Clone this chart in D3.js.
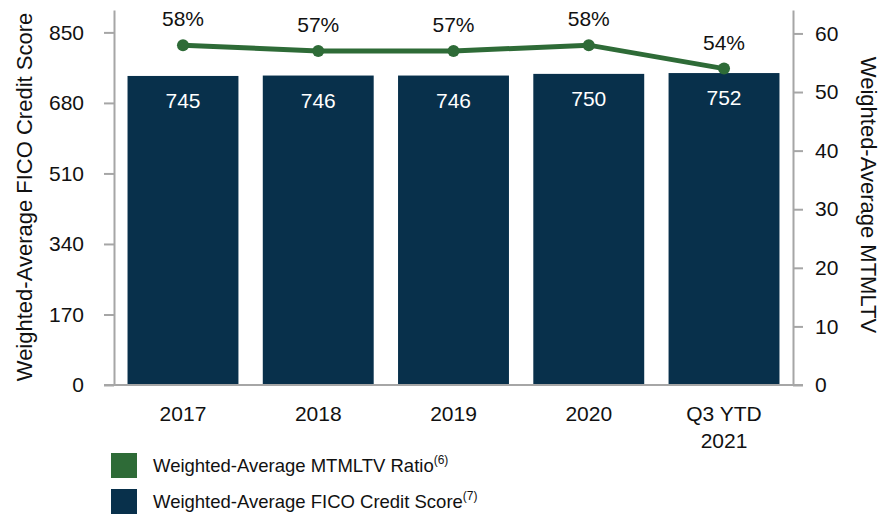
<!DOCTYPE html>
<html>
<head>
<meta charset="utf-8">
<script src="https://cdn.jsdelivr.net/npm/d3@7"></script>
<style>
  body { margin: 0; background: #fff; }
  svg text { font-family: "Liberation Sans", Arial, sans-serif; fill: #111; }
  .axis path, .axis line { stroke: #a6a6a6; stroke-width: 2; }
</style>
</head>
<body>
<div id="chart"></div>
<script>
var categories = ["2017", "2018", "2019", "2020", "Q3 YTD\n2021"];
var ficoScores = [745, 746, 746, 750, 752];
var mtmltvRatio = [58, 57, 57, 58, 54];
var leftTicks = [0, 170, 340, 510, 680, 850];
var rightTicks = [0, 10, 20, 30, 40, 50, 60];

(function () {
    var W = 886, H = 515;
    var plotLeft = 114, plotRight = 793, plotTop = 10, plotBottom = 385;
    var fs = "21px";

    var navy = "#08304b", green = "#2e6b37";

    var svg = d3.select("#chart").append("svg")
        .attr("width", W).attr("height", H);

    var x = d3.scaleBand().domain(categories).range([plotLeft, plotRight])
        .paddingInner(0.18).paddingOuter(0.1);
    var yL = d3.scaleLinear().domain([0, 904]).range([plotBottom, plotTop]);
    var yR = d3.scaleLinear().domain([0, 64]).range([plotBottom, plotTop]);

    function cx(i) { return x(categories[i]) + x.bandwidth() / 2; }

    // bars
    svg.selectAll("rect.bar").data(ficoScores).enter().append("rect")
        .attr("class", "bar")
        .attr("x", function (d, i) { return x(categories[i]); })
        .attr("width", x.bandwidth())
        .attr("y", function (d) { return yL(d); })
        .attr("height", function (d) { return plotBottom - yL(d); })
        .attr("fill", navy);

    svg.selectAll("text.barlbl").data(ficoScores).enter().append("text")
        .attr("class", "barlbl")
        .attr("x", function (d, i) { return cx(i); })
        .attr("y", function (d) { return yL(d) + 32; })
        .attr("text-anchor", "middle")
        .style("font-size", fs).style("fill", "#fff")
        .text(function (d) { return d; });

    // left axis
    var gL = svg.append("g").attr("class", "axis")
        .attr("transform", "translate(" + plotLeft + ",0)")
        .call(d3.axisLeft(yL).tickValues(leftTicks).tickSize(10).tickSizeOuter(0).tickPadding(20));
    gL.selectAll("text").style("font-size", fs);

    // right axis
    var gR = svg.append("g").attr("class", "axis")
        .attr("transform", "translate(" + plotRight + ",0)")
        .call(d3.axisRight(yR).tickValues(rightTicks).tickSize(10).tickSizeOuter(0).tickPadding(12));
    gR.selectAll("text").style("font-size", fs);

    // baseline
    svg.append("line")
        .attr("x1", plotLeft - 10).attr("x2", plotRight + 10)
        .attr("y1", plotBottom).attr("y2", plotBottom)
        .attr("stroke", "#a6a6a6").attr("stroke-width", 2);

    // x labels
    categories.forEach(function (c, i) {
        var t = svg.append("text")
            .attr("x", cx(i))
            .attr("y", 421)
            .attr("text-anchor", "middle")
            .style("font-size", fs);
        c.split("\n").forEach(function (s, j) {
            t.append("tspan").attr("x", cx(i)).attr("dy", j ? 27 : 0).text(s);
        });
    });

    // line
    var line = d3.line()
        .x(function (d, i) { return cx(i); })
        .y(function (d) { return yR(d); });

    svg.append("path").datum(mtmltvRatio)
        .attr("d", line)
        .attr("fill", "none").attr("stroke", green).attr("stroke-width", 5);

    svg.selectAll("circle.pt").data(mtmltvRatio).enter().append("circle")
        .attr("class", "pt")
        .attr("cx", function (d, i) { return cx(i); })
        .attr("cy", function (d) { return yR(d); })
        .attr("r", 6).attr("fill", green);

    svg.selectAll("text.ptlbl").data(mtmltvRatio).enter().append("text")
        .attr("class", "ptlbl")
        .attr("x", function (d, i) { return cx(i); })
        .attr("y", function (d) { return yR(d) - 19; })
        .attr("text-anchor", "middle")
        .style("font-size", fs)
        .text(function (d) { return d + "%"; });

    // axis titles
    svg.append("text")
        .attr("transform", "translate(32," + 197 + ") rotate(-90)")
        .attr("text-anchor", "middle")
        .style("font-size", "22px")
        .text("Weighted-Average FICO Credit Score");

    svg.append("text")
        .attr("transform", "translate(861," + 195 + ") rotate(90)")
        .attr("text-anchor", "middle")
        .style("font-size", "22px")
        .text("Weighted-Average MTMLTV");

    // legend
    var legend = [
        { color: green, label: "Weighted-Average MTMLTV Ratio", note: "(6)" },
        { color: navy, label: "Weighted-Average FICO Credit Score", note: "(7)" }
    ];
    legend.forEach(function (d, i) {
        var yy = 453 + i * 36;
        svg.append("rect").attr("x", 111).attr("y", yy).attr("width", 26).attr("height", 25).attr("fill", d.color);
        var t = svg.append("text").attr("x", 153).attr("y", yy + 19).style("font-size", "18.5px");
        t.append("tspan").text(d.label);
        t.append("tspan").attr("dy", -8).style("font-size", "12px").text(d.note);
    });
})();
</script>
</body>
</html>
